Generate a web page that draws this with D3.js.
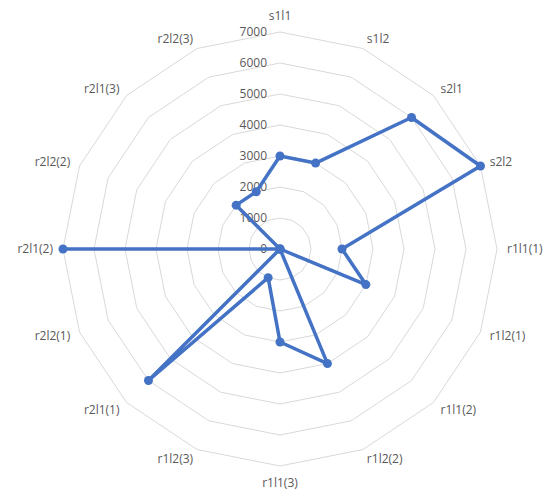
<!DOCTYPE html>
<html>
<head>
<meta charset="utf-8">
<script src="https://cdn.jsdelivr.net/npm/d3@7"></script>
<style>
  html, body { margin: 0; padding: 0; background: #fff; }
  svg { display: block; }
  text { font-family: "Open Sans", "Liberation Sans", sans-serif; fill: #595959; }
</style>
</head>
<body>
<svg id="chart" width="552" height="497"></svg>
<script>
// Categories around the radar, clockwise from the top
const categories = ["s1l1", "s1l2", "s2l1", "s2l2", "r1l1(1)", "r1l2(1)", "r1l1(2)", "r1l2(2)",
                    "r1l1(3)", "r1l2(3)", "r2l1(1)", "r2l2(1)", "r2l1(2)", "r2l2(2)", "r2l1(3)", "r2l2(3)"];
// Series values, one per category
const values = [3000, 3000, 6000, 7000, 2000, 3000, 0, 4000,
                3000, 1000, 6000, 0, 7000, 0, 2000, 2000];
// Radial axis ticks
const ticks = [0, 1000, 2000, 3000, 4000, 5000, 6000, 7000];

const svg = d3.select("#chart");
const cx = 280, cy = 249, R = 217;
const n = categories.length;

const r = d3.scaleLinear().domain([0, 7000]).range([0, R]);
const angle = d3.scalePoint().domain(d3.range(n + 1)).range([0, 2 * Math.PI]);

const g = svg.append("g").attr("transform", `translate(${cx},${cy})`);

// Polygon grid rings
const ring = d3.lineRadial()
  .angle((d, i) => angle(i))
  .radius(d => r(d))
  .curve(d3.curveLinearClosed);

g.append("g").selectAll("path")
  .data(ticks.filter(t => t > 0))
  .join("path")
  .attr("d", t => ring(d3.range(n).map(() => t)))
  .attr("fill", "none")
  .attr("stroke", "#d9d9d9")
  .attr("stroke-width", 1);

// Radial axis tick labels
g.append("g").selectAll("text")
  .data(ticks)
  .join("text")
  .attr("x", -13)
  .attr("y", t => -r(t))
  .attr("dy", "0.35em")
  .attr("text-anchor", "end")
  .attr("font-size", 12)
  .text(t => t);

// Category labels
const labelR = R + 10;
g.append("g").selectAll("text")
  .data(categories)
  .join("text")
  .each(function(d, i) {
    const a = angle(i);
    const s = Math.sin(a), c = Math.cos(a);
    const t = d3.select(this)
      .attr("font-size", 12)
      .attr("x", labelR * s)
      .attr("y", -labelR * c)
      .attr("text-anchor", Math.abs(s) < 0.1 ? "middle" : (s > 0 ? "start" : "end"))
      .text(d);
    if (Math.abs(s) < 0.1) {
      t.attr("dy", c > 0 ? "-0.2em" : "0.95em");
    } else {
      t.attr("dy", "0.35em");
    }
  });

// Series line
const line = d3.lineRadial()
  .angle((d, i) => angle(i))
  .radius(d => r(d))
  .curve(d3.curveLinearClosed);

g.append("path")
  .datum(values)
  .attr("d", line)
  .attr("fill", "none")
  .attr("stroke", "#4472C4")
  .attr("stroke-width", 3.5)
  .attr("stroke-linejoin", "round");

// Series markers
g.append("g").selectAll("circle")
  .data(values)
  .join("circle")
  .attr("cx", (d, i) => r(d) * Math.sin(angle(i)))
  .attr("cy", (d, i) => -r(d) * Math.cos(angle(i)))
  .attr("r", 4.5)
  .attr("fill", "#4472C4");
</script>
</body>
</html>
